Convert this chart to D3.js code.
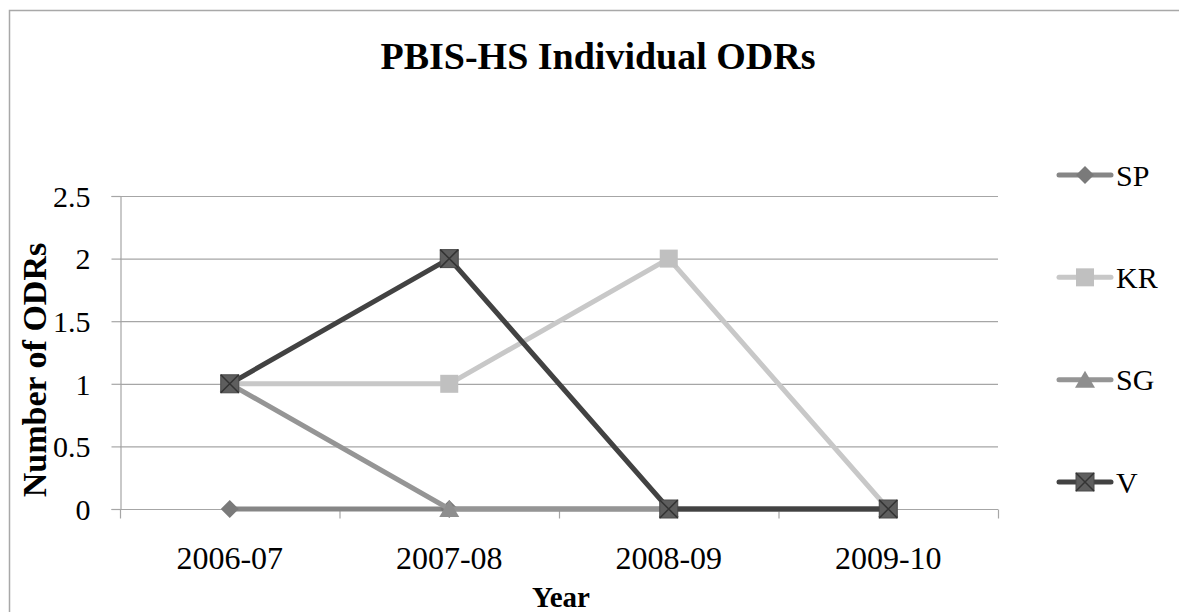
<!DOCTYPE html>
<html>
<head>
<meta charset="utf-8">
<script src="https://cdn.jsdelivr.net/npm/d3@7"></script>
<style>
  html, body { margin: 0; padding: 0; background: #fff; }
  svg { display: block; font-family: "Liberation Serif", "Times New Roman", serif; }
</style>
</head>
<body>
<svg id="chart" width="1179" height="612"></svg>
<script>
// Chart data
const years = ["2006-07", "2007-08", "2008-09", "2009-10"];
const seriesNames = ["SP", "KR", "SG", "V"];
const spValues = [0, 0, 0, 0];
const krValues = [1, 1, 2, 0];
const sgValues = [1, 0, 0, 0];
const vValues = [1, 2, 0, 0];
const yTicks = [0, 0.5, 1, 1.5, 2, 2.5];

const series = [
  { name: "SP", values: spValues, line: "#868686", fill: "#7a7a7a", shape: "diamond" },
  { name: "KR", values: krValues, line: "#c8c8c8", fill: "#c0c0c0", shape: "square" },
  { name: "SG", values: sgValues, line: "#959595", fill: "#8e8e8e", shape: "triangle" },
  { name: "V",  values: vValues,  line: "#424242", fill: "#5e5e5e", shape: "cross" }
];

const svg = d3.select("#chart");
const W = 1179, H = 612;
const plot = { left: 120, right: 998, top: 196, bottom: 509 };

// Outer chart frame
svg.append("rect")
  .attr("x", 9.5).attr("y", 10.5)
  .attr("width", W - 9.5 + 5).attr("height", H - 10.5 + 5)
  .attr("fill", "none").attr("stroke", "#a8a8a8").attr("stroke-width", 1.5);

const x = d3.scaleBand().domain(years).range([plot.left, plot.right]);
const y = d3.scaleLinear().domain([0, 2.5]).range([plot.bottom, plot.top]);

// Horizontal gridlines
svg.append("g")
  .selectAll("line").data(yTicks.filter(d => d > 0)).join("line")
  .attr("x1", plot.left).attr("x2", plot.right)
  .attr("y1", d => y(d) + 0.5).attr("y2", d => y(d) + 0.5)
  .attr("stroke", "#a6a6a6").attr("stroke-width", 1.2);

// Y axis
const yAxis = svg.append("g")
  .attr("transform", `translate(${plot.left + 0.5},0)`)
  .call(d3.axisLeft(y).tickValues(yTicks).tickSize(9).tickPadding(21)
    .tickFormat(d => d3.format("")(d)));
yAxis.select(".domain").attr("stroke", "#a6a6a6").attr("stroke-width", 1.2);
yAxis.selectAll(".tick line").attr("stroke", "#a6a6a6").attr("stroke-width", 1.2);
yAxis.selectAll(".tick text")
  .attr("font-size", 30).attr("fill", "#000")
  .attr("font-family", "Liberation Serif, Times New Roman, serif")
  .attr("dy", "0.34em");

// X axis with boundary ticks between categories
const xAxisG = svg.append("g").attr("transform", `translate(0,${plot.bottom + 0.5})`);
xAxisG.append("line")
  .attr("x1", plot.left).attr("x2", plot.right)
  .attr("stroke", "#a6a6a6").attr("stroke-width", 1.2);
const boundaries = years.map(d => x(d)).concat([x(years[years.length - 1]) + x.bandwidth()]);
xAxisG.selectAll("line.bt").data(boundaries).join("line")
  .attr("class", "bt")
  .attr("x1", d => d + 0.5).attr("x2", d => d + 0.5)
  .attr("y1", 0).attr("y2", 9)
  .attr("stroke", "#a6a6a6").attr("stroke-width", 1.2);
xAxisG.selectAll("text").data(years).join("text")
  .attr("x", d => x(d) + x.bandwidth() / 2)
  .attr("y", 59)
  .attr("text-anchor", "middle")
  .attr("font-size", 32)
  .text(d => d);

// Title and axis titles
svg.append("text")
  .attr("x", 598).attr("y", 69)
  .attr("text-anchor", "middle")
  .attr("font-size", 38).attr("font-weight", "bold")
  .text("PBIS-HS Individual ODRs");

svg.append("text")
  .attr("x", 561).attr("y", 607)
  .attr("text-anchor", "middle")
  .attr("font-size", 29).attr("font-weight", "bold")
  .text("Year");

svg.append("text")
  .attr("transform", `translate(46,370) rotate(-90)`)
  .attr("text-anchor", "middle")
  .attr("font-size", 34).attr("font-weight", "bold")
  .text("Number of ODRs");

// Marker drawing
function drawMarker(g, s, cx, cy) {
  const m = g.append("g").attr("transform", `translate(${cx},${cy})`);
  if (s.shape === "diamond") {
    m.append("path").attr("d", "M0,-9L9,0L0,9L-9,0Z").attr("fill", s.fill);
  } else if (s.shape === "square") {
    m.append("rect").attr("x", -9).attr("y", -9).attr("width", 18).attr("height", 18).attr("fill", s.fill);
  } else if (s.shape === "triangle") {
    m.append("path").attr("d", "M0,-9L10,8L-10,8Z").attr("fill", s.fill);
  } else if (s.shape === "cross") {
    m.append("rect").attr("x", -9).attr("y", -9).attr("width", 18).attr("height", 18)
      .attr("fill", s.fill).attr("stroke", "#4a4a4a").attr("stroke-width", 1);
    m.append("path").attr("d", "M-9,-9L9,9M9,-9L-9,9")
      .attr("stroke", "#333").attr("stroke-width", 1.5);
  }
}

const line = d3.line()
  .x((d, i) => x(years[i]) + x.bandwidth() / 2)
  .y(d => y(d));

series.forEach(s => {
  const g = svg.append("g");
  g.append("path")
    .attr("d", line(s.values))
    .attr("fill", "none").attr("stroke", s.line)
    .attr("stroke-width", 5).attr("stroke-linejoin", "round");
  s.values.forEach((v, i) => drawMarker(g, s, x(years[i]) + x.bandwidth() / 2, y(v)));
});

// Legend
const legendY = d3.scalePoint().domain(seriesNames).range([175, 482]);
series.forEach(s => {
  const g = svg.append("g").attr("transform", `translate(0,${legendY(s.name)})`);
  g.append("line").attr("x1", 1059).attr("x2", 1111).attr("y1", 0).attr("y2", 0)
    .attr("stroke", s.line).attr("stroke-width", 5).attr("stroke-linecap", "round");
  drawMarker(g, s, 1085, 0);
  g.append("text").attr("x", 1116).attr("y", 0).attr("dy", "0.35em")
    .attr("font-size", 30).text(s.name);
});
</script>
</body>
</html>
